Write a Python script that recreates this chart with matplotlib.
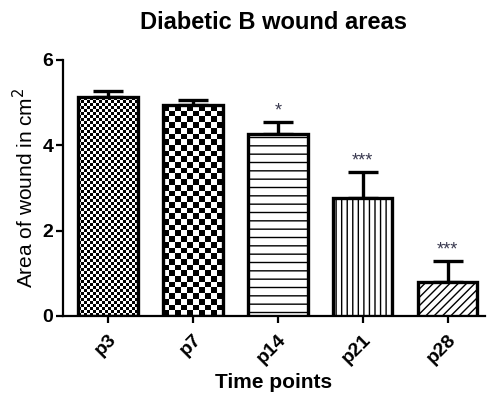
import numpy as np
import matplotlib
matplotlib.use('Agg')
import matplotlib.pyplot as plt

plt.rcParams['font.family'] = ['Liberation Sans', 'DejaVu Sans']
plt.rcParams['hatch.linewidth'] = 1.0

labels = ['p3', 'p7', 'p14', 'p21', 'p28']
means = [5.13, 4.94, 4.26, 2.76, 0.80]
errs = [0.14, 0.12, 0.28, 0.61, 0.49]
stars = ['', '', '*', '***', '***']

fig = plt.figure(figsize=(4.87, 3.96), dpi=100)
ax = fig.add_axes([63 / 487, 80 / 396, 422 / 487, 256 / 396])

x = np.arange(len(labels))
faces = ['none', 'none', 'white', 'white', 'white']
bars = ax.bar(x, means, width=0.7, color=faces, edgecolor='black',
              linewidth=2.4, zorder=3)
ax.errorbar(x, means, yerr=[np.zeros(len(errs)), errs], fmt='none',
            ecolor='black', elinewidth=2.4, capsize=11, capthick=2.4, zorder=2)

# checker textures for the first two bars, line hatches for the rest
checker_cells = {0: (20, 73), 1: (10, 37)}
for i, b in enumerate(bars):
    if i in checker_cells:
        nx, ny = checker_cells[i]
        img = (np.indices((ny, nx)).sum(axis=0) % 2).astype(float)
        im = ax.imshow(img, cmap='gray', interpolation='nearest', aspect='auto',
                       extent=[b.get_x(), b.get_x() + b.get_width(), 0, b.get_height()],
                       zorder=2.5)
        im.set_clip_path(b)
hatches = [None, None, '--', '|||', '////']
for b, h in zip(bars, hatches):
    if h:
        b.set_hatch(h)

for xi, m, e, s in zip(x, means, errs, stars):
    if s:
        ax.text(xi, m + e + 0.06, s, ha='center', va='bottom', fontsize=13,
                color='#3a3a50')

ax.set_xlim(-0.53, 4.44)
ax.set_ylim(0, 6)
ax.set_yticks([0, 2, 4, 6])
ax.set_xticks(x)
ax.set_xticklabels(labels, rotation=45, ha='right', rotation_mode='anchor',
                   fontsize=14, fontweight='bold')
for t in ax.get_yticklabels():
    t.set_fontweight('bold')
    t.set_fontsize(14)

for side in ['top', 'right']:
    ax.spines[side].set_visible(False)
for side in ['left', 'bottom']:
    ax.spines[side].set_linewidth(1.6)
ax.tick_params(width=1.6, length=5, pad=2)
ax.tick_params(axis='x', pad=6)

ax.set_ylabel('Area of wound in cm$^2$', fontsize=15, labelpad=4)
ax.set_xlabel('Time points', fontsize=15, fontweight='bold', labelpad=4)
ax.set_title('Diabetic B wound areas', fontsize=17, fontweight='bold', pad=22)

fig.savefig('out.png', dpi=100)
